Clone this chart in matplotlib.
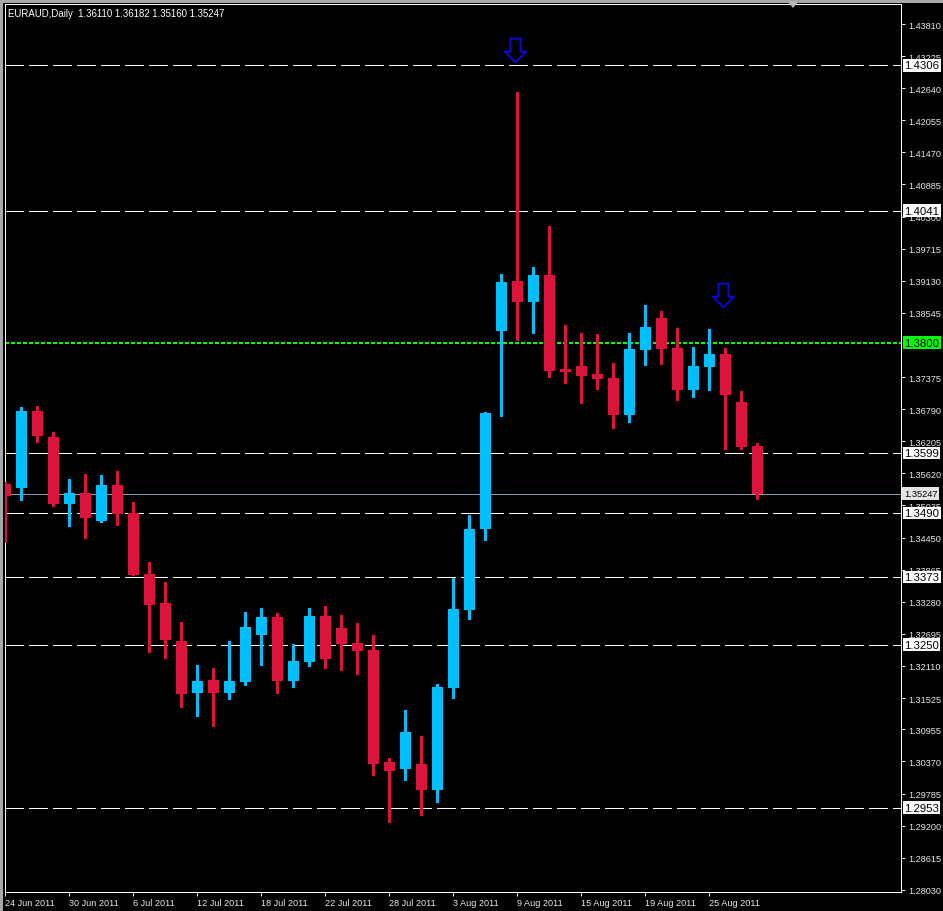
#!/usr/bin/env python3
# -*- coding: utf-8 -*-
"""
EURAUD daily candles, MT4 style
"""

import matplotlib
matplotlib.use('Agg')
import matplotlib.pyplot as plt
from matplotlib.path import Path
from matplotlib.patches import Rectangle, Polygon


# daily bars 24 Jun 2011 .. 30 Aug 2011
opens = [1.35427, 1.35354, 1.36757, 1.36283, 1.35062, 1.35262, 1.34752, 1.35408,
         1.34898, 1.33786, 1.33258, 1.32565, 1.31617, 1.31854, 1.31617, 1.31818,
         1.32675, 1.33003, 1.31836, 1.32182, 1.33021, 1.32802, 1.32529, 1.32401,
         1.30360, 1.30232, 1.30324, 1.29850, 1.31709, 1.33130, 1.34606, 1.38215,
         1.39126, 1.38743, 1.39236, 1.37522, 1.37577, 1.37431, 1.37358, 1.36684,
         1.37869, 1.38452, 1.37905, 1.37140, 1.37559, 1.37796, 1.36921, 1.36110]
highs = [1.35463, 1.36830, 1.36848, 1.36374, 1.35518, 1.35609, 1.35590, 1.35663,
         1.35098, 1.34005, 1.33640, 1.32911, 1.32128, 1.32073, 1.32565, 1.33094,
         1.33167, 1.33076, 1.32511, 1.33167, 1.33203, 1.33039, 1.32893, 1.32675,
         1.30433, 1.31308, 1.30834, 1.31782, 1.33713, 1.34862, 1.36730, 1.39254,
         1.42571, 1.39381, 1.40129, 1.38324, 1.38179, 1.38160, 1.37632, 1.38179,
         1.38689, 1.38579, 1.38270, 1.37923, 1.38251, 1.37905, 1.37121, 1.36182]
lows = [1.34369, 1.35135, 1.36192, 1.35026, 1.34661, 1.34442, 1.34740, 1.34679,
        1.33760, 1.32365, 1.32255, 1.31362, 1.31198, 1.31016, 1.31508, 1.31763,
        1.32128, 1.31617, 1.31727, 1.32110, 1.32073, 1.32037, 1.31964, 1.30123,
        1.29266, 1.30032, 1.29394, 1.29631, 1.31526, 1.32966, 1.34406, 1.36666,
        1.38051, 1.38179, 1.37377, 1.37267, 1.36903, 1.37158, 1.36447, 1.36556,
        1.37595, 1.37614, 1.36957, 1.37012, 1.37140, 1.36064, 1.36064, 1.35160]
closes = [1.35208, 1.36757, 1.36301, 1.35062, 1.35262, 1.34807, 1.35408, 1.34880,
          1.33768, 1.33221, 1.32583, 1.31599, 1.31836, 1.31617, 1.31836, 1.32820,
          1.33003, 1.31836, 1.32201, 1.33021, 1.32237, 1.32511, 1.32383, 1.30324,
          1.30196, 1.30907, 1.29850, 1.31727, 1.33148, 1.34606, 1.36720, 1.39108,
          1.38743, 1.39236, 1.37486, 1.37468, 1.37395, 1.37340, 1.36684, 1.37887,
          1.38288, 1.37887, 1.37140, 1.37577, 1.37796, 1.37049, 1.36101, 1.35247]

date_labels = ['24 Jun 2011', '30 Jun 2011', '6 Jul 2011', '12 Jul 2011',
               '18 Jul 2011', '22 Jul 2011', '28 Jul 2011', '3 Aug 2011',
               '9 Aug 2011', '15 Aug 2011', '19 Aug 2011', '25 Aug 2011']

# price scale labels as shown on the right
price_ticks = [1.43810, 1.43225, 1.42640, 1.42055, 1.41470, 1.40885, 1.40300,
               1.39715, 1.39130, 1.38545, 1.37375, 1.36790, 1.36205,
               1.35620, 1.35035, 1.34450, 1.33865, 1.33280, 1.32695, 1.32110,
               1.31525, 1.30955, 1.30370, 1.29785, 1.29200, 1.28615, 1.28030]

# horizontal levels drawn on the chart
levels = [1.4306, 1.4041, 1.3599, 1.3490, 1.3373, 1.3250, 1.2953]
green_level = 1.3800
bid = 1.35247

# down arrows (bar index, price at arrow centre)
arrow_bars = [32, 45]
arrow_prices = [1.43336, 1.38880]

title = 'EURAUD,Daily  1.36110 1.36182 1.35160 1.35247'


if __name__ == '__main__':

    plt.rcParams['font.family'] = ['Liberation Sans', 'DejaVu Sans']

    W, H = 943, 912
    fig = plt.figure(figsize=(W / 100, H / 100), dpi=100, facecolor='black')
    ax = fig.add_axes([5 / W, 19 / H, 896 / W, 888 / H], facecolor='black')

    bull = '#00bfff'
    bear = '#dc143c'
    px = 0.72  # one pixel in points

    n = len(opens)
    xs = list(range(n))
    cols = [bull if c >= o else bear for o, c in zip(opens, closes)]

    ax.vlines(xs, lows, highs, colors=cols, linewidth=1.0, zorder=4,
              antialiased=False)
    heights = [max(abs(c - o), 0.00012) for o, c in zip(opens, closes)]
    bottoms = [min(o, c) for o, c in zip(opens, closes)]
    ax.bar(xs, heights, bottom=bottoms, width=0.69, color=cols,
           linewidth=0, zorder=5, antialiased=False)

    for lv in levels:
        ax.axhline(lv, color='white', linewidth=1.0, linestyle=(0, (13, 4.3)),
                   zorder=2, antialiased=False)
        ax.text(1.0035, lv, '%.4f' % lv, transform=ax.get_yaxis_transform(),
                ha='left', va='center', fontsize=8.2, color='black',
                bbox=dict(boxstyle='square,pad=0.12', fc='white', ec='none'),
                clip_on=False, zorder=6)

    ax.axhline(green_level, color='#00ff00', linewidth=1.2,
               linestyle=(0, (2.2, 1.4)), zorder=2, antialiased=False)
    ax.text(1.0035, green_level, '%.4f' % green_level,
            transform=ax.get_yaxis_transform(), ha='left', va='center',
            fontsize=8.2, color='black',
            bbox=dict(boxstyle='square,pad=0.12', fc='#00ff00', ec='none'),
            clip_on=False, zorder=6)

    ax.axhline(bid, color='#8c9aa6', linewidth=px, zorder=2)
    ax.text(1.0035, bid, '%.5f' % bid, transform=ax.get_yaxis_transform(),
            ha='left', va='center', fontsize=6.7, color='black',
            bbox=dict(boxstyle='square,pad=0.2', fc='#e4e4e4', ec='none'),
            clip_on=False, zorder=6)

    # hollow down arrow marker
    verts = [(-0.42, 1), (0.42, 1), (0.42, -0.1), (0.9, -0.1), (0, -1),
             (-0.9, -0.1), (-0.42, -0.1), (-0.42, 1)]
    codes = [Path.MOVETO] + [Path.LINETO] * 6 + [Path.CLOSEPOLY]
    arrow = Path(verts, codes)
    ax.plot([b - 0.15 for b in arrow_bars], arrow_prices, linestyle='none',
            marker=arrow, markersize=17, markerfacecolor='none',
            markeredgecolor='#0a0ad8', markeredgewidth=1.4, zorder=7)

    ax.set_xlim(-0.031, 55.97)
    ax.set_ylim(1.279907, 1.441745)

    ax.set_xticks(range(0, n, 4))
    ax.set_xticklabels(date_labels, ha='left')
    ax.set_yticks(price_ticks)
    ax.set_yticklabels(['%.5f' % p for p in price_ticks])
    ax.yaxis.tick_right()
    ax.tick_params(axis='y', colors='#e8e8e8', labelsize=6.6, length=3,
                   width=px, pad=2.2, direction='out')
    ax.tick_params(axis='x', colors='#e8e8e8', labelsize=6.6, length=3,
                   width=px, pad=1.0, direction='out')
    for s in ax.spines.values():
        s.set_color('white')
        s.set_linewidth(px)

    # window border and shift marker
    fig.patches.append(Rectangle((0, 1 - 4 / H), 1, 4 / H, transform=fig.transFigure,
                                 facecolor='#a8a8a8', edgecolor='none'))
    fig.patches.append(Rectangle((0, 0), 3 / W, 1, transform=fig.transFigure,
                                 facecolor='#a8a8a8', edgecolor='none'))
    fig.patches.append(Polygon([(788 / W, 1 - 3 / H), (798 / W, 1 - 3 / H),
                                (793 / W, 1 - 9 / H)], closed=True,
                               transform=fig.transFigure, facecolor='#b8b8b8',
                               edgecolor='none'))

    fig.text(8 / W, 1 - 14 / H, title, ha='left', va='center',
             fontsize=6.9, color='white')

    fig.savefig('out.png', dpi=100, facecolor='black')
    plt.close(fig)
